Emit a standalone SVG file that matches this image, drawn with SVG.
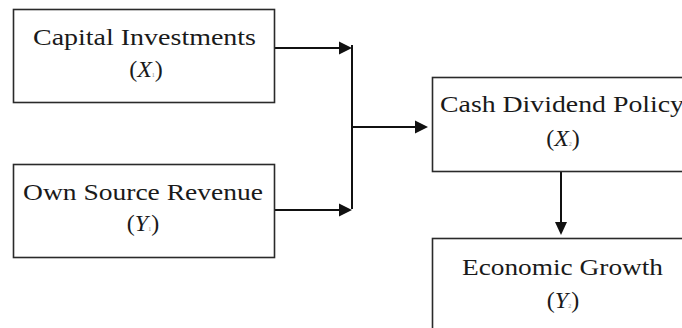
<svg xmlns="http://www.w3.org/2000/svg" width="682" height="328" viewBox="0 0 682 328">
<style>
.box{fill:#fff;stroke:#2a2a2a;stroke-width:1.6}
.t{font-family:"Liberation Serif","Times New Roman",serif;font-size:24px;fill:#1a1a1a;text-anchor:middle}
.v{font-style:italic}
.sub{font-size:6px;font-style:normal;fill:#888}
.ln{stroke:#111;stroke-width:2;fill:none}
.ah{fill:#111}
</style>
<rect width="682" height="328" fill="#fff"/>
<g id="connectors">
<line class="ln" x1="275" y1="48" x2="341" y2="48"/>
<polygon class="ah" points="339,41.5 352,48 339,54.5"/>
<line class="ln" x1="275" y1="210" x2="341" y2="210"/>
<polygon class="ah" points="339,203.5 352,210 339,216.5"/>
<line class="ln" x1="352" y1="45" x2="352" y2="209"/>
<line class="ln" x1="352" y1="127" x2="417" y2="127"/>
<polygon class="ah" points="415,120.5 428,127 415,133.5"/>
<line class="ln" x1="561" y1="172" x2="561" y2="224"/>
<polygon class="ah" points="555,222 567,222 561,235"/>
</g>
<g id="capital-investments">
<rect class="box" x="13.5" y="9.5" width="261" height="93"/>
<text class="t" x="144.5" y="45" textLength="223" lengthAdjust="spacingAndGlyphs">Capital Investments</text>
<text class="t" x="146" y="77">(<tspan class="v">X</tspan><tspan class="sub">1</tspan>)</text>
</g>
<g id="own-source-revenue">
<rect class="box" x="13.5" y="164.5" width="261" height="93"/>
<text class="t" x="143" y="200" textLength="240" lengthAdjust="spacingAndGlyphs">Own Source Revenue</text>
<text class="t" x="143" y="231">(<tspan class="v">Y</tspan><tspan class="sub">1</tspan>)</text>
</g>
<g id="cash-dividend-policy">
<rect class="box" x="432.5" y="77.5" width="261" height="94"/>
<text class="t" x="562" y="112" textLength="244" lengthAdjust="spacingAndGlyphs">Cash Dividend Policy</text>
<text class="t" x="563" y="146">(<tspan class="v">X</tspan><tspan class="sub">2</tspan>)</text>
</g>
<g id="economic-growth">
<rect class="box" x="432.5" y="238.5" width="261" height="100"/>
<text class="t" x="562.5" y="275" textLength="201" lengthAdjust="spacingAndGlyphs">Economic Growth</text>
<text class="t" x="563" y="308">(<tspan class="v">Y</tspan><tspan class="sub">2</tspan>)</text>
</g>
</svg>
